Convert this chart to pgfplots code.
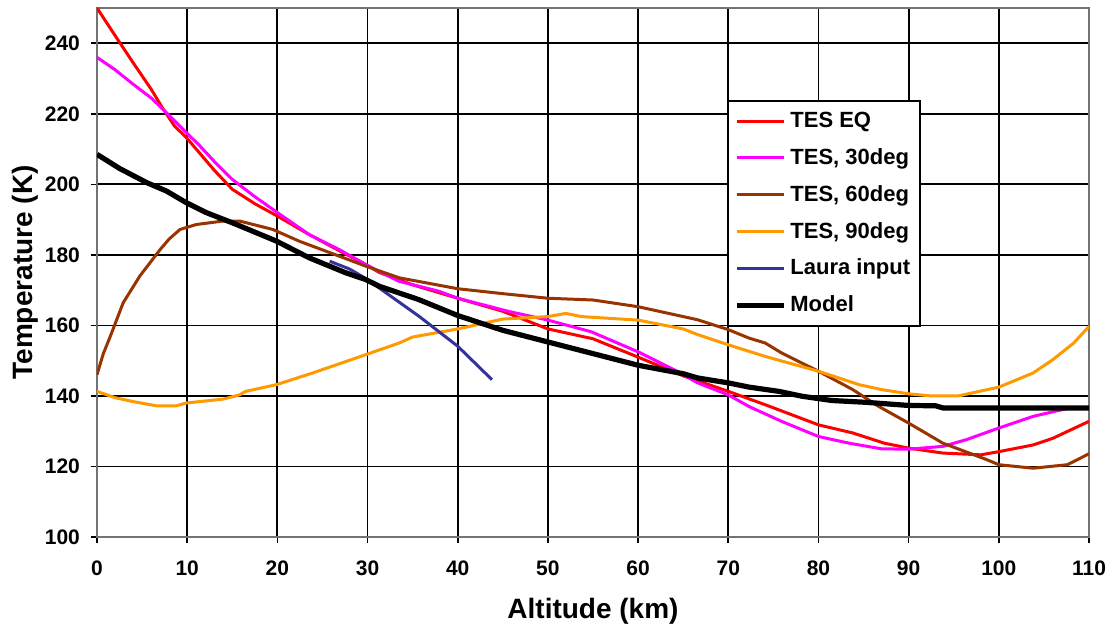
\documentclass[border=0pt]{standalone}
\usepackage{fontspec}
\setmainfont{Liberation Sans}
\usepackage{pgfplots}
\pgfplotsset{compat=1.18}

\definecolor{tesred}{RGB}{255,0,0}
\definecolor{tesmag}{RGB}{255,0,255}
\definecolor{tesbrown}{RGB}{153,51,0}
\definecolor{tesorange}{RGB}{255,153,0}
\definecolor{laurablue}{RGB}{51,51,153}

\begin{document}
\begin{tikzpicture}
\useasboundingbox (-48.5pt,-44.5pt) rectangle (507.5pt,268.5pt);
\begin{axis}[
  scale only axis,
  width=496pt, height=264.5pt,
  xmin=0, xmax=110, ymin=100, ymax=250,
  xtick={0,10,...,110},
  ytick={100,120,...,240},
  grid=major,
  grid style={black, line width=0.9pt},
  axis line style={black!55, line width=0.9pt},
  tick align=outside,
  xtick pos=left, ytick pos=left,
  major tick length=3pt,
  tick style={black, line width=0.8pt},
  ticklabel style={font=\fontsize{10.5}{12}\selectfont\bfseries},
  /pgf/number format/assume math mode=true,
  xticklabel style={yshift=-5.5pt},
  yticklabel style={xshift=-2pt},
  xlabel={Altitude (km)},
  ylabel={Temperature (K)},
  every axis x label/.style={at={(axis description cs:0.5,-0.14)}, anchor=center,
    font=\fontsize{14}{16}\selectfont\bfseries},
  every axis y label/.style={at={(axis description cs:-0.0726,0.5)}, anchor=center, rotate=90,
    font=\fontsize{14}{16}\selectfont\bfseries},
  legend style={at={(axis description cs:0.8306,0.826)}, anchor=north east,
    draw=black, line width=0.8pt, fill=white,
    font=\fontsize{11}{13}\selectfont\bfseries,
    inner xsep=3pt, inner ysep=3.5pt, row sep=5pt,
    cells={anchor=west}},
  legend image code/.code={\draw[#1] (0pt,0pt) -- (23.5pt,0pt);},
]
% TES EQ
\addplot[tesred, line width=1.5pt] coordinates {
(0,250) (2,242.2) (4,234.5) (6,227) (7.3,221.5) (8.6,216.5) (9.9,213.3) (11,210) (13,204) (15,198.6)
(17.5,194.5) (20,191) (23.5,185.8) (27,181) (30,177) (31.3,175) (35,171.5) (40,167.7)
(45,164) (50,159) (55,156.2) (60,151) (65,145.7) (70,141.3) (74.1,137.5) (80,131.8)
(83.8,129.5) (87.3,126.6) (90,125.2) (93.8,123.8) (98,123.3) (100,124.2) (103.8,126.1)
(106,128) (110,132.8)};
\addlegendentry{TES EQ}
% TES 30deg
\addplot[tesmag, line width=1.5pt] coordinates {
(0,236) (2,232.5) (4,228.4) (6,224.5) (7.3,221.3) (9,217) (11.4,210.9) (13,206.5)
(15,201.4) (17.5,196.5) (20,192) (23.5,185.8) (27,181.3) (30,177) (33.5,172.5)
(37.9,169.7) (40,167.7) (45.6,164) (50,161.5) (54.8,158.2) (60,152.5) (64.4,146.9)
(66.6,143.7) (70,140.3) (72.3,137) (75.9,132.8) (80,128.5) (83.4,126.6) (87,125)
(90,124.9) (93.8,125.7) (96.4,127.6) (100,130.9) (103.8,134.2) (107,136.1) (108.5,136.8)};
\addlegendentry{TES, 30deg}
% TES 60deg
\addplot[tesbrown, line width=1.5pt] coordinates {
(0,146) (0.7,152) (1.4,156.4) (2.9,166.4) (4.75,174) (7,181.5) (8,184.5) (9.2,187.2)
(11,188.6) (14,189.6) (15.8,189.6) (19.5,187.2) (22.4,183.9) (26.9,179.6) (29.8,176.8)
(33.5,173.5) (40,170.4) (45,169) (50,167.7) (55,167.2) (60,165.3) (65,162.5) (66.6,161.6)
(70,158.8) (72.3,156.4) (74.1,155) (75.9,152.2) (80,147) (83.8,141.8) (86.7,137)
(90,132.3) (93.8,126.6) (98.6,122) (100,120.5) (103.8,119.5) (107.6,120.5) (110,123.6)};
\addlegendentry{TES, 60deg}
% TES 90deg
\addplot[tesorange, line width=1.5pt] coordinates {
(0,141.3) (2,139.5) (4,138.4) (6.6,137.2) (8.8,137.2) (9.9,138) (14,139.1) (15.8,140.3)
(16.5,141.3) (19.9,143.2) (23.9,146.5) (29.8,151.7) (33.5,155) (35,156.7) (40,159)
(45,161.8) (50,162.5) (52,163.4) (53.7,162.5) (60,161.5) (65,159) (66.6,157.4) (70,154.5)
(74.1,151.2) (80,147) (84.5,143.2) (87,141.8) (90,140.6) (92.5,140) (95.5,140)
(100,142.5) (103.8,146.5) (106,150.3) (108.3,155) (110,159.7)};
\addlegendentry{TES, 90deg}
% Laura input
\addplot[laurablue, line width=1.5pt] coordinates {
(25.8,178.2) (28,176) (30,173) (31.3,170.6) (35.7,162.6) (40,154.1) (43.8,144.6)};
\addlegendentry{Laura input}
% Model
\addplot[black, line width=2.6pt] coordinates {
(0,208.5) (2.5,204.5) (5.5,200.5) (7.7,198.1) (9.9,194.8) (12.1,192) (15,189.1)
(19.9,183.9) (23.5,179.2) (27.6,174.9) (29.8,173) (31.3,171.1) (35.7,167.3) (40,162.8)
(45,158.6) (50,155.3) (55,152) (60,148.7) (65,146.3) (66.6,145.1) (70,143.7) (72.3,142.5)
(75.6,141.3) (78.2,139.9) (81.5,138.7) (85.2,138.2) (90,137.3) (93,137.2) (93.8,136.6)
(110,136.6)};
\addlegendentry{Model}
\end{axis}
\end{tikzpicture}
\end{document}
